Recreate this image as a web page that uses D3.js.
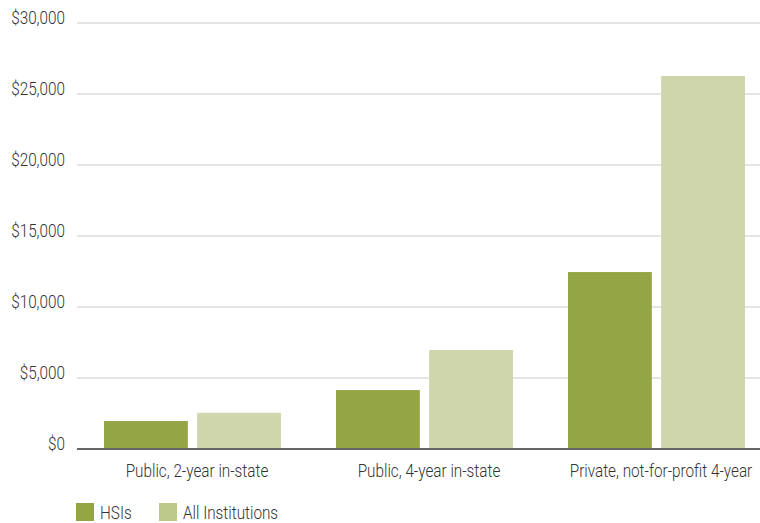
<!DOCTYPE html>
<html>
<head>
<meta charset="utf-8">
<script src="https://cdn.jsdelivr.net/npm/d3@7"></script>
<style>
  html, body { margin: 0; padding: 0; background: #fff; }
  svg { display: block; }
  text { font-family: "Roboto", "Liberation Sans", sans-serif; font-weight: 300; fill: #333; }
</style>
</head>
<body>
<svg id="chart" width="760" height="523"></svg>
<script>
const categories = ["Public, 2-year in-state", "Public, 4-year in-state", "Private, not-for-profit 4-year"];
const seriesNames = ["HSIs", "All Institutions"];
const hsiValues = [1970, 4150, 12460];
const allValues = [2550, 6970, 26270];
const yTicks = [0, 5000, 10000, 15000, 20000, 25000, 30000];

const barColors = ["#94a545", "#cfd6ab"];
const legendColors = ["#94a545", "#bcc98b"];

const svg = d3.select("#chart");
const plotLeft = 77, plotRight = 760;
const SX = 0.85;   // horizontal condensing of the text
const FS = 18;

const y = d3.scaleLinear().domain([0, 30000]).range([449, 23]);
const x0 = d3.scaleBand().domain(categories).range([76.5, 772.5]).padding(0);
const x1 = d3.scaleBand().domain(seriesNames).range([27.5, 204.5]).paddingInner(0.1).paddingOuter(0);

const data = categories.map((c, i) => ({ cat: c, vals: [hsiValues[i], allValues[i]] }));

// gridlines
svg.append("g").selectAll("line").data(yTicks.filter(t => t > 0)).join("line")
  .attr("x1", plotLeft).attr("x2", plotRight)
  .attr("y1", d => y(d)).attr("y2", d => y(d))
  .attr("stroke", "#dcdcdc").attr("stroke-width", 1.5);

// y tick labels (baseline on the gridline)
const fmt = d => "$" + d3.format(",")(d);
svg.append("g").selectAll("text").data(yTicks).join("text")
  .attr("transform", d => `translate(65,${y(d) + 0.5}) scale(${SX},1)`)
  .attr("text-anchor", "end")
  .attr("font-size", FS)
  .text(fmt);

// bars
const g = svg.append("g").selectAll("g").data(data).join("g")
  .attr("transform", d => `translate(${x0(d.cat)},0)`);
g.selectAll("rect").data(d => d.vals.map((v, j) => ({ key: seriesNames[j], v, j }))).join("rect")
  .attr("x", d => x1(d.key))
  .attr("width", x1.bandwidth())
  .attr("y", d => y(d.v))
  .attr("height", d => y(0) - y(d.v))
  .attr("fill", d => barColors[d.j]);

// category labels
svg.append("g").selectAll("text").data(categories).join("text")
  .attr("transform", d => `translate(${x0(d) + x0.bandwidth() / 2 + 4.5},${y(0) + 28}) scale(${SX},1)`)
  .attr("text-anchor", "middle")
  .attr("font-size", FS)
  .text(d => d);

// baseline
svg.append("line").attr("x1", plotLeft).attr("x2", plotRight)
  .attr("y1", y(0)).attr("y2", y(0)).attr("stroke", "#666").attr("stroke-width", 2);

// legend
const legendX = [76, 159];
const lg = svg.append("g").selectAll("g").data(seriesNames).join("g")
  .attr("transform", (d, i) => `translate(${legendX[i]},503)`);
lg.append("rect").attr("width", 18).attr("height", 18).attr("fill", (d, i) => legendColors[i]);
lg.append("text").attr("transform", `translate(24,15.5) scale(${SX},1)`).attr("font-size", FS).text(d => d);
</script>
</body>
</html>
